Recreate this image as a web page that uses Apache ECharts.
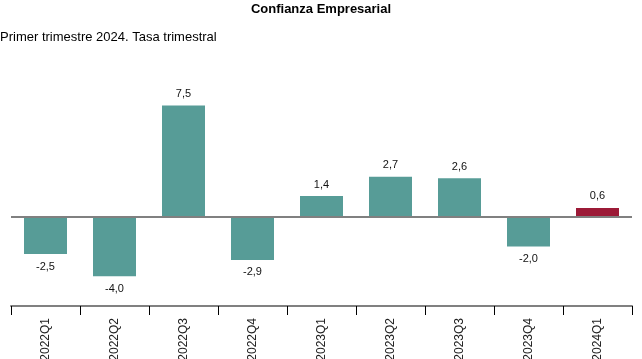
<!DOCTYPE html>
<html>
<head>
<meta charset="utf-8">
<script src="https://cdn.jsdelivr.net/npm/echarts@6/dist/echarts.min.js"></script>
<style>
html,body{margin:0;padding:0;background:#fff;}
#c{width:642px;height:359px;}
</style>
</head>
<body>
<div id="c"></div>
<script>
const categories = ["2022Q1","2022Q2","2022Q3","2022Q4","2023Q1","2023Q2","2023Q3","2023Q4","2024Q1"];
const values = [-2.5, -4.0, 7.5, -2.9, 1.4, 2.7, 2.6, -2.0, 0.6];
const highlightIndex = 8;

const teal = '#579c97';
const red = '#9c1a37';

const data = values.map((v, i) => ({
  value: v,
  itemStyle: { color: i === highlightIndex ? red : teal },
  label: { position: v < 0 ? 'bottom' : 'top', distance: v < 0 ? 7 : 6 }
}));

const chart = echarts.init(document.getElementById('c'), null, {renderer: 'canvas'});
chart.setOption({
  animation: false,
  title: [
    { text: 'Confianza Empresarial', left: 'center', top: -2,
      textStyle: { fontFamily: 'Liberation Sans, Arial, sans-serif', fontSize: 13, fontWeight: 'bold', color: '#000' } },
    { text: 'Primer trimestre 2024. Tasa trimestral', left: 0, top: 26, padding: [5, 5, 5, 0],
      textStyle: { fontFamily: 'Liberation Sans, Arial, sans-serif', fontSize: 13, fontWeight: 'normal', color: '#000' } }
  ],
  grid: { left: 11, right: 10, top: 98, bottom: 53, containLabel: false, outerBoundsMode: 'none' },
  xAxis: {
    type: 'category',
    data: categories,
    axisLine: { onZero: false, lineStyle: { color: '#808080', width: 2 } },
    axisTick: { show: true, length: 9, lineStyle: { color: '#000', width: 1 }, alignWithLabel: false },
    axisLabel: { rotate: 90, margin: 12, fontSize: 12, color: '#222', fontFamily: 'Liberation Sans, Arial, sans-serif' }
  },
  yAxis: {
    type: 'value', min: -6, max: 8, show: false,
    splitLine: { show: false }
  },
  series: [{
    type: 'bar',
    data: data,
    barWidth: 43,
    label: {
      show: true,
      fontSize: 11,
      color: '#111',
      fontFamily: 'Liberation Sans, Arial, sans-serif',
      formatter: p => p.value.toFixed(1).replace('.', ',')
    },
    markLine: {
      silent: true,
      symbol: 'none',
      label: { show: false },
      lineStyle: { color: '#808080', width: 2, type: 'solid' },
      data: [{ yAxis: 0 }]
    }
  }]
});
</script>
</body>
</html>
